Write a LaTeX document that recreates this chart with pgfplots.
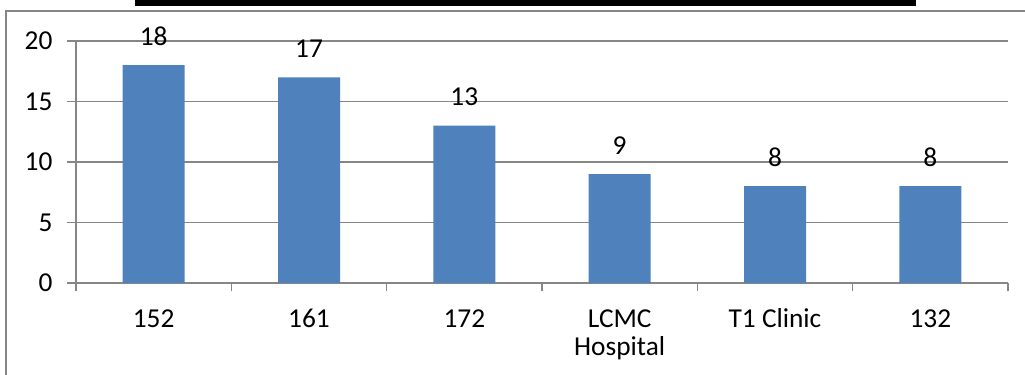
\documentclass[border=0pt]{standalone}
\usepackage{pgfplots}
\pgfplotsset{compat=1.18}
\usepackage{fontspec}
\setmainfont{Carlito}
\definecolor{barblue}{RGB}{79,129,189}
\definecolor{axgray}{RGB}{134,134,134}
\begin{document}
\begin{tikzpicture}
\useasboundingbox (0,0) rectangle (768.75pt,281.25pt);
\fill[black] (101.25pt,276.75pt) rectangle (687pt,281.25pt);
\draw[axgray, line width=1.3pt] (4.5pt,-2pt) -- (4.5pt,273pt) -- (772pt,273pt);
\begin{axis}[
  at={(57pt,69pt)}, anchor=south west,
  scale only axis, width=699pt, height=181.5pt,
  xmin=-0.5, xmax=5.5, ymin=0, ymax=20,
  axis lines*=left,
  axis line style={axgray, line width=1.1pt, -},
  tick align=outside,
  xtick={0,1,2,3,4,5},
  xticklabels={152,161,172,{\begin{tabular}[t]{@{}c@{}}LCMC\\Hospital\end{tabular}},T1 Clinic,132},
  minor xtick={-0.5,0.5,1.5,2.5,3.5,4.5,5.5},
  major tick length=6.75pt, minor tick length=6pt,
  x tick style={draw=none},
  minor x tick style={draw=axgray, line width=1.1pt},
  y tick style={draw=axgray, line width=1.1pt},
  ytick={0,5,10,15,20},
  ymajorgrids, grid style={axgray, line width=1.3pt},
  /pgf/number format/assume math mode=true,
  tick label style={font=\fontsize{20.5}{21}\selectfont, text=black},
  xticklabel style={anchor=base, inner sep=0pt, yshift=-26.25pt},
  yticklabel style={anchor=east, inner sep=0pt, xshift=-10.75pt},
  every axis plot/.append style={draw=none},
  clip=false,
]
\addplot[ybar, bar width=46.5pt, fill=barblue, draw=none,
  nodes near coords,
  nodes near coords style={font=\fontsize{20.5}{21}\selectfont, text=black, anchor=base, inner sep=0pt, yshift=15pt}]
  coordinates {(0,18) (1,17) (2,13) (3,9) (4,8) (5,8)};
\end{axis}
\end{tikzpicture}
\end{document}
